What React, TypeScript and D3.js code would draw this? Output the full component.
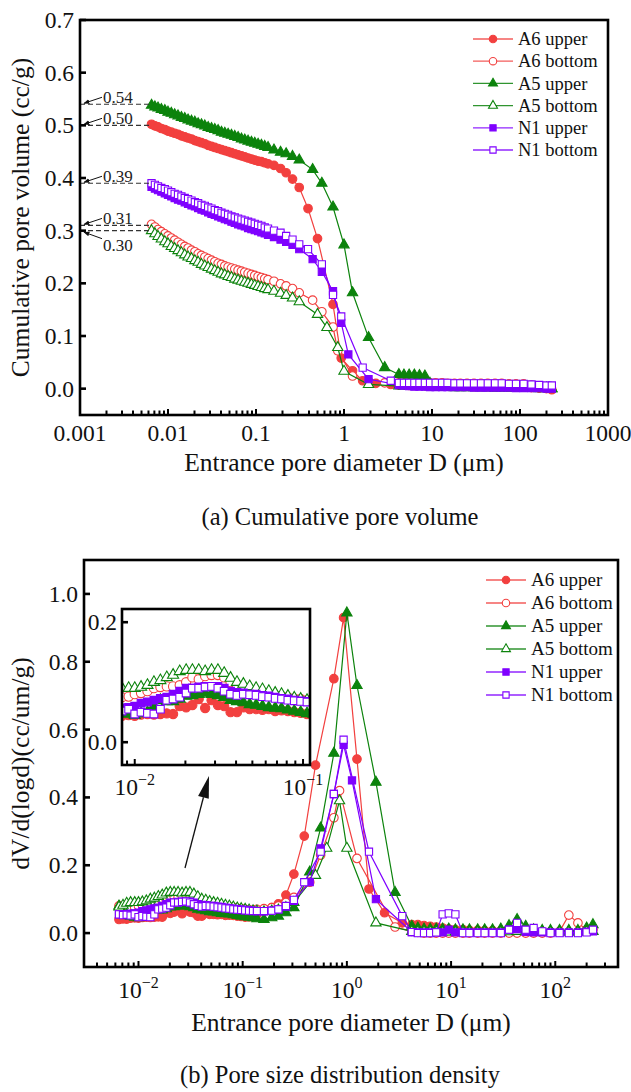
import React from 'react';
import * as d3 from 'd3';

// ---------------- DATA ----------------
// Shared diameter grids (µm)
const DIAM_FINE = [0.0065, 0.0071, 0.0077, 0.0084, 0.0092, 0.010, 0.0109, 0.0119, 0.013, 0.0142, 0.0155, 0.0169, 0.0185, 0.0202, 0.022, 0.024, 0.0262, 0.0286, 0.0312, 0.034, 0.0371, 0.0405, 0.0442, 0.0482, 0.0526, 0.0574, 0.0626, 0.0683, 0.0745, 0.0813, 0.0887, 0.0968, 0.1056, 0.1152, 0.1257, 0.137];
const DIAM_MID = [0.16, 0.19, 0.22, 0.26, 0.31, 0.39, 0.44, 0.5, 0.56, 0.64, 0.75, 0.85, 0.93, 1.0, 1.12, 1.25, 1.63, 1.9, 2.3, 2.9, 3.4];
const DIAM_COARSE = [4.2, 4.8, 5.5, 6.3, 7.2, 8.3, 9.5, 11, 13, 15, 18, 21, 25, 30, 36, 43, 52, 62, 75, 90, 110, 135, 165, 200, 230];

// (a) Cumulative pore volume (cc/g)
const A6U_CUM_FINE = [0.502, 0.499, 0.497, 0.494, 0.492, 0.489, 0.487, 0.485, 0.483, 0.480, 0.478, 0.476, 0.474, 0.471, 0.469, 0.467, 0.465, 0.462, 0.460, 0.458, 0.456, 0.454, 0.452, 0.450, 0.448, 0.446, 0.444, 0.442, 0.440, 0.438, 0.436, 0.434, 0.432, 0.431, 0.429, 0.427];
const A6U_CUM_MID = [0.424, 0.418, 0.410, 0.398, 0.382, 0.342, null, 0.285, null, null, 0.160, null, 0.058, null, null, 0.034, 0.015, null, 0.010, null, 0.008];
const A6U_CUM_COARSE = [0.007, 0.007, 0.006, 0.006, 0.006, 0.006, 0.006, 0.005, 0.005, 0.005, 0.005, 0.005, 0.005, 0.004, 0.004, 0.004, 0.004, 0.004, 0.003, 0.003, 0.003, 0.002, 0.001, 0.0, -0.002];

const A6B_CUM_FINE = [0.312, 0.307, 0.302, 0.298, 0.294, 0.290, 0.286, 0.282, 0.278, 0.274, 0.270, 0.267, 0.263, 0.260, 0.256, 0.253, 0.250, 0.247, 0.244, 0.241, 0.238, 0.236, 0.233, 0.231, 0.229, 0.227, 0.225, 0.223, 0.221, 0.219, 0.217, 0.215, 0.213, 0.211, 0.209, 0.207];
const A6B_CUM_MID = [0.204, 0.199, 0.195, 0.190, 0.182, null, 0.168, null, 0.146, null, 0.117, 0.072, null, null, null, 0.024, null, 0.014, null, 0.011, null];
const A6B_CUM_COARSE = [0.011, 0.011, 0.011, 0.011, 0.011, 0.011, 0.011, 0.011, 0.011, 0.010, 0.010, 0.010, 0.010, 0.010, 0.010, 0.010, 0.010, 0.010, 0.009, 0.009, 0.009, 0.007, 0.004, 0.003, null];

const A5U_CUM_FINE = [0.538, 0.535, 0.533, 0.530, 0.528, 0.525, 0.523, 0.520, 0.518, 0.515, 0.513, 0.510, 0.508, 0.506, 0.503, 0.501, 0.499, 0.496, 0.494, 0.492, 0.490, 0.487, 0.485, 0.483, 0.481, 0.479, 0.477, 0.474, 0.472, 0.470, 0.468, 0.466, 0.464, 0.462, 0.460, 0.458];
const A5U_CUM_MID = [0.453, 0.449, 0.446, 0.441, 0.434, null, 0.416, null, 0.390, null, 0.345, null, null, 0.273, null, 0.182, null, 0.097, null, 0.040, null];
const A5U_CUM_COARSE = [0.027, 0.026, 0.026, 0.026, 0.025, 0.024, 0.010, 0.003, 0.003, 0.003, 0.002, 0.002, 0.002, 0.002, 0.002, 0.002, 0.001, 0.001, 0.001, 0.001, 0.001, 0.001, 0.0, 0.0, 0.0];

const A5B_CUM_FINE = [0.300, 0.294, 0.289, 0.284, 0.279, 0.275, 0.270, 0.266, 0.262, 0.258, 0.254, 0.250, 0.247, 0.243, 0.240, 0.236, 0.233, 0.230, 0.227, 0.224, 0.221, 0.218, 0.216, 0.213, 0.211, 0.208, 0.206, 0.204, 0.202, 0.200, 0.198, 0.196, 0.194, 0.192, 0.190, 0.188];
const A5B_CUM_MID = [0.185, 0.181, 0.177, 0.172, 0.165, null, null, 0.141, null, 0.116, null, 0.078, null, 0.033, null, null, null, 0.008, null, null, null];
const A5B_CUM_COARSE = [0.005, 0.005, 0.004, 0.004, 0.004, 0.004, 0.003, 0.003, 0.003, 0.003, 0.003, 0.003, 0.003, 0.003, 0.002, 0.002, 0.002, 0.002, 0.002, 0.002, 0.001, 0.001, 0.001, 0.001, 0.0];

const N1U_CUM_FINE = [0.383, 0.380, 0.377, 0.374, 0.371, 0.368, 0.365, 0.362, 0.359, 0.357, 0.354, 0.351, 0.348, 0.346, 0.343, 0.340, 0.338, 0.335, 0.332, 0.330, 0.327, 0.325, 0.322, 0.320, 0.317, 0.315, 0.312, 0.310, 0.308, 0.305, 0.303, 0.301, 0.299, 0.297, 0.295, 0.292];
const N1U_CUM_MID = [0.288, 0.283, 0.279, 0.273, 0.265, null, 0.246, null, 0.222, null, 0.185, null, 0.125, null, 0.065, null, null, 0.018, null, null, null];
const N1U_CUM_COARSE = [0.007, 0.006, 0.005, 0.004, 0.004, 0.004, 0.003, 0.003, 0.003, 0.003, 0.003, 0.003, 0.003, 0.002, 0.002, 0.002, 0.002, 0.002, 0.002, 0.001, 0.001, 0.001, 0.001, 0.0, 0.0];

const N1B_CUM_FINE = [0.390, 0.387, 0.384, 0.381, 0.379, 0.376, 0.373, 0.370, 0.368, 0.365, 0.362, 0.360, 0.357, 0.354, 0.352, 0.349, 0.347, 0.344, 0.342, 0.339, 0.337, 0.334, 0.332, 0.330, 0.327, 0.325, 0.323, 0.321, 0.319, 0.317, 0.315, 0.313, 0.311, 0.309, 0.306, 0.304];
const N1B_CUM_MID = [0.300, 0.296, 0.290, 0.283, 0.274, 0.265, null, null, 0.236, null, 0.178, null, 0.137, null, null, null, 0.040, null, null, null, 0.015];
const N1B_CUM_COARSE = [0.011, 0.011, 0.011, 0.011, 0.011, 0.011, 0.011, 0.011, 0.011, 0.011, 0.010, 0.010, 0.010, 0.010, 0.010, 0.010, 0.010, 0.010, 0.009, 0.009, 0.009, 0.008, 0.007, 0.006, 0.006];

// (b) Pore size distribution density dV/d(logd)
const A6U_PSD_FINE = [0.040, 0.042, 0.041, 0.044, 0.045, 0.044, 0.046, 0.047, 0.046, 0.047, 0.048, 0.047, 0.060, 0.058, 0.062, 0.072, 0.057, 0.070, 0.062, 0.060, 0.050, 0.050, 0.058, 0.055, 0.055, 0.054, 0.055, 0.052, 0.053, 0.052, 0.050, 0.049, 0.047, 0.048, 0.050, 0.055];
const A6U_PSD_MID = [0.065, 0.075, 0.086, 0.112, 0.174, 0.286, null, 0.495, null, null, 0.750, null, 0.930, null, null, 0.513, 0.130, null, 0.060, null, 0.030];
const A6U_PSD_COARSE = [0.025, 0.025, 0.022, 0.020, 0.018, 0.015, 0.012, 0.010, 0.010, 0.008, 0.008, 0.007, 0.007, 0.006, 0.006, 0.005, 0.005, 0.004, 0.004, 0.004, 0.003, 0.003, 0.004, 0.006, 0.010];

const A6B_PSD_FINE = [0.080, 0.076, 0.074, 0.075, 0.076, 0.080, 0.082, 0.085, 0.090, 0.092, 0.093, 0.093, 0.095, 0.100, 0.108, 0.105, 0.110, 0.112, 0.112, 0.108, 0.100, 0.093, 0.088, 0.085, 0.083, 0.082, 0.080, 0.078, 0.077, 0.075, 0.073, 0.072, 0.070, 0.068, 0.068, 0.070];
const A6B_PSD_MID = [0.072, 0.075, 0.080, 0.090, 0.105, null, 0.150, null, 0.230, null, 0.340, 0.420, null, null, null, 0.220, null, null, null, 0.018, null];
const A6B_PSD_COARSE = [0.005, 0.002, 0.0, 0.0, 0.0, 0.0, 0.0, 0.0, 0.0, 0.0, 0.0, 0.0, 0.0, 0.0, 0.0, 0.0, 0.0, 0.0, 0.0, 0.0, 0.005, 0.053, 0.030, 0.010, null];

const A5U_PSD_FINE = [0.080, 0.062, 0.055, 0.050, 0.047, 0.045, 0.048, 0.050, 0.060, 0.070, 0.068, 0.068, 0.072, 0.077, 0.078, 0.080, 0.082, 0.080, 0.078, 0.075, 0.070, 0.068, 0.066, 0.063, 0.062, 0.060, 0.058, 0.057, 0.056, 0.054, 0.052, 0.050, 0.048, 0.047, 0.045, 0.042];
const A5U_PSD_MID = [0.040, 0.045, 0.050, 0.060, 0.075, null, 0.180, null, 0.310, null, 0.530, null, null, 0.944, null, 0.730, null, 0.445, null, 0.120, null];
const A5U_PSD_COARSE = [0.020, 0.015, 0.012, 0.012, 0.012, 0.012, 0.012, 0.010, 0.010, 0.010, 0.010, 0.010, 0.010, 0.012, 0.022, 0.040, 0.020, 0.010, 0.008, 0.008, 0.008, 0.008, 0.008, 0.015, 0.025];

const A5B_PSD_FINE = [0.077, 0.082, 0.088, 0.090, 0.090, 0.090, 0.092, 0.095, 0.100, 0.103, 0.108, 0.112, 0.118, 0.120, 0.120, 0.120, 0.118, 0.120, 0.120, 0.115, 0.107, 0.100, 0.097, 0.093, 0.090, 0.088, 0.085, 0.082, 0.080, 0.077, 0.074, 0.072, 0.070, 0.068, 0.066, 0.065];
const A5B_PSD_MID = [0.063, 0.065, 0.068, 0.075, 0.090, null, null, 0.170, null, 0.250, null, 0.390, null, 0.250, null, null, null, 0.030, null, null, null];
const A5B_PSD_COARSE = [0.005, 0.004, 0.004, 0.004, 0.004, 0.003, 0.003, 0.003, 0.003, 0.003, 0.003, 0.003, 0.003, 0.003, 0.004, 0.005, 0.004, 0.003, 0.003, 0.003, 0.003, 0.003, 0.003, 0.004, 0.005];

const N1U_PSD_FINE = [0.055, 0.056, 0.056, 0.057, 0.058, 0.060, 0.065, 0.067, 0.070, 0.073, 0.075, 0.080, 0.085, 0.090, 0.090, 0.092, 0.093, 0.093, 0.093, 0.090, 0.085, 0.083, 0.082, 0.080, 0.080, 0.078, 0.077, 0.075, 0.073, 0.072, 0.070, 0.069, 0.068, 0.067, 0.066, 0.065];
const N1U_PSD_MID = [0.064, 0.066, 0.070, 0.078, 0.095, null, 0.150, null, 0.250, null, 0.410, null, 0.555, null, 0.450, null, null, 0.100, null, null, null];
const N1U_PSD_COARSE = [0.003, 0.002, 0.002, 0.002, 0.002, 0.002, 0.010, 0.002, 0.002, 0.002, 0.002, 0.002, 0.002, 0.002, 0.010, 0.012, 0.004, 0.002, 0.002, 0.002, 0.002, 0.002, 0.002, 0.004, 0.005];

const N1B_PSD_FINE = [0.055, 0.053, 0.054, 0.052, 0.055, 0.047, 0.050, 0.048, 0.047, 0.055, 0.070, 0.072, 0.075, 0.082, 0.090, 0.090, 0.092, 0.093, 0.090, 0.085, 0.080, 0.078, 0.080, 0.079, 0.078, 0.076, 0.075, 0.073, 0.072, 0.070, 0.069, 0.068, 0.067, 0.066, 0.065, 0.065];
const N1B_PSD_MID = [0.065, 0.066, 0.070, 0.080, 0.098, 0.150, null, null, 0.240, null, 0.410, null, 0.570, null, null, null, 0.240, null, null, null, 0.050];
const N1B_PSD_COARSE = [0.003, 0.0, 0.0, 0.0, 0.002, 0.055, 0.058, 0.055, 0.0, 0.0, 0.0, 0.0, 0.0, 0.0, 0.010, 0.030, 0.010, 0.015, 0.005, 0.0, 0.0, 0.0, 0.0, 0.002, 0.010];

const SERIES_NAMES = ['A6 upper', 'A6 bottom', 'A5 upper', 'A5 bottom', 'N1 upper', 'N1 bottom'];

// tick values / labels
const TOP_X_LABELS = [0.001, 0.01, 0.1, 1, 10, 100, 1000];
const TOP_Y_TICKS = [0, 0.1, 0.2, 0.3, 0.4, 0.5, 0.6, 0.7];
const BOT_X_LABELS = [0.01, 0.1, 1, 10, 100];
const BOT_X_EXPONENTS = ['−2', '−1', '0', '1', '2'];
const BOT_Y_TICKS = [0, 0.2, 0.4, 0.6, 0.8, 1.0];
const INSET_X_LABELS = [0.01, 0.1];
const INSET_X_EXPONENTS = ['−2', '−1'];
const INSET_Y_TICKS = [0, 0.2];
const ANNOT_VALUES = [0.54, 0.50, 0.39, 0.31, 0.30];
const ANNOT_LABELS = ['0.54', '0.50', '0.39', '0.31', '0.30'];

// ---------------- STYLE ----------------
const FONT = "'Liberation Serif','Times New Roman',serif";
const RED = '#F2403F';
const GREEN = '#0C830C';
const PURPLE = '#7F00FF';
const TICK_FS = 23.5;
const TITLE_FS = 25.5;

type Style = { color: string; shape: 'circle' | 'triangle' | 'square'; filled: boolean };
const STYLES: Style[] = [
  { color: RED, shape: 'circle', filled: true },
  { color: RED, shape: 'circle', filled: false },
  { color: GREEN, shape: 'triangle', filled: true },
  { color: GREEN, shape: 'triangle', filled: false },
  { color: PURPLE, shape: 'square', filled: true },
  { color: PURPLE, shape: 'square', filled: false },
];

const CUM_DATA = [
  [A6U_CUM_FINE, A6U_CUM_MID, A6U_CUM_COARSE],
  [A6B_CUM_FINE, A6B_CUM_MID, A6B_CUM_COARSE],
  [A5U_CUM_FINE, A5U_CUM_MID, A5U_CUM_COARSE],
  [A5B_CUM_FINE, A5B_CUM_MID, A5B_CUM_COARSE],
  [N1U_CUM_FINE, N1U_CUM_MID, N1U_CUM_COARSE],
  [N1B_CUM_FINE, N1B_CUM_MID, N1B_CUM_COARSE],
];
const PSD_DATA = [
  [A6U_PSD_FINE, A6U_PSD_MID, A6U_PSD_COARSE],
  [A6B_PSD_FINE, A6B_PSD_MID, A6B_PSD_COARSE],
  [A5U_PSD_FINE, A5U_PSD_MID, A5U_PSD_COARSE],
  [A5B_PSD_FINE, A5B_PSD_MID, A5B_PSD_COARSE],
  [N1U_PSD_FINE, N1U_PSD_MID, N1U_PSD_COARSE],
  [N1B_PSD_FINE, N1B_PSD_MID, N1B_PSD_COARSE],
];

type Pt = [number, number];
function buildPoints(parts: (number | null)[][]): Pt[] {
  const grids = [DIAM_FINE, DIAM_MID, DIAM_COARSE];
  const out: Pt[] = [];
  parts.forEach((vals, gi) => {
    vals.forEach((v, i) => {
      if (v !== null && v !== undefined) out.push([grids[gi][i], v]);
    });
  });
  return out;
}

const SYMBOL_SIZE = { circle: 58, triangle: 46, square: 52 };
function symbolPath(shape: Style['shape'], scale = 1) {
  const type = shape === 'circle' ? d3.symbolCircle : shape === 'triangle' ? d3.symbolTriangle : d3.symbolSquare;
  return d3.symbol().type(type).size(SYMBOL_SIZE[shape] * scale)() as string;
}

function logTicks(lo: number, hi: number): { v: number; major: boolean }[] {
  const res: { v: number; major: boolean }[] = [];
  for (let k = -4; k <= 4; k++) {
    for (let m = 1; m <= 9; m++) {
      const v = m * Math.pow(10, k);
      if (v >= lo * 1.0001 && v <= hi * 0.9999) res.push({ v, major: m === 1 });
    }
  }
  return res;
}

function SeriesMarks({ pts, st, xs, ys, scale = 1 }: { pts: Pt[]; st: Style; xs: any; ys: any; scale?: number }) {
  const line = d3.line<Pt>().x((d) => xs(d[0])).y((d) => ys(d[1]));
  const sym = symbolPath(st.shape, scale);
  return (
    <g>
      <path d={line(pts) || ''} fill="none" stroke={st.color} strokeWidth={1.2} />
      {pts.map((p, i) => (
        <path
          key={i}
          d={sym}
          transform={`translate(${xs(p[0])},${ys(p[1])})`}
          fill={st.filled ? st.color : '#fff'}
          stroke={st.color}
          strokeWidth={1.1}
        />
      ))}
    </g>
  );
}

function Legend({ x, y, dy, fs }: { x: number; y: number; dy: number; fs: number }) {
  return (
    <g>
      {SERIES_NAMES.map((n, i) => {
        const st = STYLES[i];
        const yy = y + i * dy;
        return (
          <g key={n}>
            <line x1={x} x2={x + 40} y1={yy} y2={yy} stroke={st.color} strokeWidth={1.3} opacity={0.85} />
            <path d={symbolPath(st.shape, 0.75)} transform={`translate(${x + 20},${yy})`} fill={st.filled ? st.color : '#fff'} stroke={st.color} strokeWidth={1.1} />
            <text x={x + 45} y={yy + fs * 0.33} fontSize={fs} fontFamily={FONT} fill="#111">{n}</text>
          </g>
        );
      })}
    </g>
  );
}

// ---------------- CHART (a) ----------------
function CumChart() {
  const L = 80, R = 608, T = 20, B = 415;
  const xs = d3.scaleLog().domain([0.001, 1000]).range([L, R]);
  const ys = d3.scaleLinear().domain([-0.05, 0.7]).range([B, T]);
  const ticks = logTicks(0.001, 1000);
  const x0 = xs(DIAM_FINE[0]) - 2;
  return (
    <g>
      {CUM_DATA.map((parts, i) => (
        <SeriesMarks key={i} pts={buildPoints(parts)} st={STYLES[i]} xs={xs} ys={ys} />
      ))}
      {/* annotations */}
      {ANNOT_VALUES.map((v, i) => {
        const yy = ys(v);
        const below = i === 4;
        return (
          <g key={i}>
            <line x1={L} x2={x0} y1={yy} y2={yy} stroke="#333" strokeWidth={1.2} strokeDasharray="5,3" />
            <line x1={L + 22} y1={below ? yy + 8 : yy - 7} x2={L + 4} y2={below ? yy + 1.5 : yy - 1} stroke="#111" strokeWidth={1} markerEnd="url(#ahSmall)" />
            <text x={L + 23} y={below ? yy + 20 : yy - 1} fontSize={17} fontFamily={FONT} fill="#222">{ANNOT_LABELS[i]}</text>
          </g>
        );
      })}
      {/* frame */}
      <rect x={L} y={T} width={R - L} height={B - T} fill="none" stroke="#000" strokeWidth={2.6} />
      {ticks.map((t, i) => (
        <line key={i} x1={xs(t.v)} x2={xs(t.v)} y1={B} y2={B - (t.major ? 6 : 4.5)} stroke="#000" strokeWidth={2} />
      ))}
      {TOP_X_LABELS.map((v) => (
        <text key={v} x={xs(v)} y={B + 26} textAnchor="middle" fontSize={TICK_FS} fontFamily={FONT} fill="#111">{String(v)}</text>
      ))}
      {TOP_Y_TICKS.map((v) => (
        <g key={v}>
          <line x1={L} x2={L + 6} y1={ys(v)} y2={ys(v)} stroke="#000" strokeWidth={2.6} />
          <text x={L - 6} y={ys(v) + 8} textAnchor="end" fontSize={TICK_FS} fontFamily={FONT} fill="#111">{v.toFixed(1)}</text>
        </g>
      ))}
      <text x={(L + R) / 2} y={B + 56} textAnchor="middle" fontSize={TITLE_FS} fontFamily={FONT} fill="#111">Entrance pore diameter D (μm)</text>
      <text transform={`translate(29,${(T + B) / 2}) rotate(-90)`} textAnchor="middle" fontSize={TITLE_FS} fontFamily={FONT} fill="#111">Cumulative pore volume (cc/g)</text>
      <Legend x={473} y={39} dy={22.2} fs={18.5} />
      <text x={340} y={525} textAnchor="middle" fontSize={24.5} fontFamily={FONT} fill="#111">(a) Cumulative pore volume</text>
    </g>
  );
}

// ---------------- CHART (b) ----------------
function PsdChart() {
  const L = 84, R = 618, T = 560, B = 967;
  const xs = d3.scaleLog().domain([0.003, 400]).range([L, R]);
  const ys = d3.scaleLinear().domain([-0.1, 1.1]).range([B, T]);
  const ticks = logTicks(0.003, 400);

  // inset
  const IL = 122, IR = 310, IT = 609, IB = 765;
  const xi = d3.scaleLog().domain([0.0084, 0.11]).range([IL, IR]);
  const yi = d3.scaleLinear().domain([-0.038, 0.222]).range([IB, IT]);
  const iticks = logTicks(0.0084, 0.11);

  // arrow (annotation)
  const tail: Pt = [185, 868];
  const tip: Pt = [209, 776];
  const dx = tip[0] - tail[0], dy = tip[1] - tail[1];
  const len = Math.hypot(dx, dy);
  const ux = dx / len, uy = dy / len;
  const bx = tip[0] - 22 * ux, by = tip[1] - 22 * uy;
  const nx = -uy, ny = ux;
  const head = `M${tip[0]},${tip[1]} L${bx + 5.5 * nx},${by + 5.5 * ny} L${bx - 5.5 * nx},${by - 5.5 * ny} Z`;

  return (
    <g>
      {PSD_DATA.map((parts, i) => (
        <SeriesMarks key={i} pts={buildPoints(parts)} st={STYLES[i]} xs={xs} ys={ys} />
      ))}
      <rect x={L} y={T} width={R - L} height={B - T} fill="none" stroke="#000" strokeWidth={2.6} />
      {ticks.map((t, i) => (
        <line key={i} x1={xs(t.v)} x2={xs(t.v)} y1={B} y2={B - (t.major ? 6 : 4.5)} stroke="#000" strokeWidth={2} />
      ))}
      {BOT_X_LABELS.map((v, i) => (
        <text key={v} x={xs(v)} y={B + 31} textAnchor="middle" fontSize={TICK_FS} fontFamily={FONT} fill="#111">
          10<tspan dy={-10} fontSize={16}>{BOT_X_EXPONENTS[i]}</tspan>
        </text>
      ))}
      {BOT_Y_TICKS.map((v) => (
        <g key={v}>
          <line x1={L} x2={L + 6} y1={ys(v)} y2={ys(v)} stroke="#000" strokeWidth={2.6} />
          <text x={L - 6} y={ys(v) + 8} textAnchor="end" fontSize={TICK_FS} fontFamily={FONT} fill="#111">{v.toFixed(1)}</text>
        </g>
      ))}
      <text x={(L + R) / 2} y={1031} textAnchor="middle" fontSize={TITLE_FS} fontFamily={FONT} fill="#111">Entrance pore diameter D (μm)</text>
      <text transform={`translate(29,${(T + B) / 2}) rotate(-90)`} textAnchor="middle" fontSize={TITLE_FS} fontFamily={FONT} fill="#111">dV/d(logd)(cc/um/g)</text>
      <Legend x={486} y={580} dy={23} fs={19} />

      {/* inset */}
      <defs>
        <clipPath id="insetClip">
          <rect x={IL} y={IT} width={IR - IL} height={IB - IT} />
        </clipPath>
      </defs>
      <rect x={IL} y={IT} width={IR - IL} height={IB - IT} fill="#fff" />
      <g clipPath="url(#insetClip)">
        {PSD_DATA.map((parts, i) => (
          <SeriesMarks key={i} pts={buildPoints([parts[0], [], []])} st={STYLES[i]} xs={xi} ys={yi} scale={1.15} />
        ))}
      </g>
      <rect x={IL} y={IT} width={IR - IL} height={IB - IT} fill="none" stroke="#000" strokeWidth={2.6} />
      {iticks.map((t, i) => (
        <line key={i} x1={xi(t.v)} x2={xi(t.v)} y1={IB} y2={IB - (t.major ? 6 : 4.5)} stroke="#000" strokeWidth={2} />
      ))}
      {INSET_X_LABELS.map((v, i) => (
        <text key={v} x={xi(v)} y={IB + 30} textAnchor="middle" fontSize={TICK_FS} fontFamily={FONT} fill="#111">
          10<tspan dy={-10} fontSize={16}>{INSET_X_EXPONENTS[i]}</tspan>
        </text>
      ))}
      {INSET_Y_TICKS.map((v) => (
        <g key={v}>
          <line x1={IL} x2={IL + 6} y1={yi(v)} y2={yi(v)} stroke="#000" strokeWidth={2.6} />
          <text x={IL - 5} y={yi(v) + 8} textAnchor="end" fontSize={TICK_FS} fontFamily={FONT} fill="#111">{v.toFixed(1)}</text>
        </g>
      ))}
      <line x1={tail[0]} y1={tail[1]} x2={bx} y2={by} stroke="#111" strokeWidth={1.3} />
      <path d={head} fill="#111" />

      <text x={340} y={1083} textAnchor="middle" fontSize={24.5} fontFamily={FONT} fill="#111">(b) Pore size distribution density</text>
    </g>
  );
}

export default function App() {
  return (
    <svg width={631} height={1092} viewBox="0 0 631 1092" style={{ position: 'absolute', left: 0, top: 0, background: '#fff' }} xmlns="http://www.w3.org/2000/svg">
      <defs>
        <marker id="ahSmall" viewBox="0 0 10 10" refX={9} refY={5} markerWidth={6} markerHeight={6} orient="auto">
          <path d="M0,1 L10,5 L0,9 z" fill="#111" />
        </marker>
      </defs>
      <rect x={0} y={0} width={631} height={1092} fill="#fff" />
      <CumChart />
      <PsdChart />
    </svg>
  );
}
